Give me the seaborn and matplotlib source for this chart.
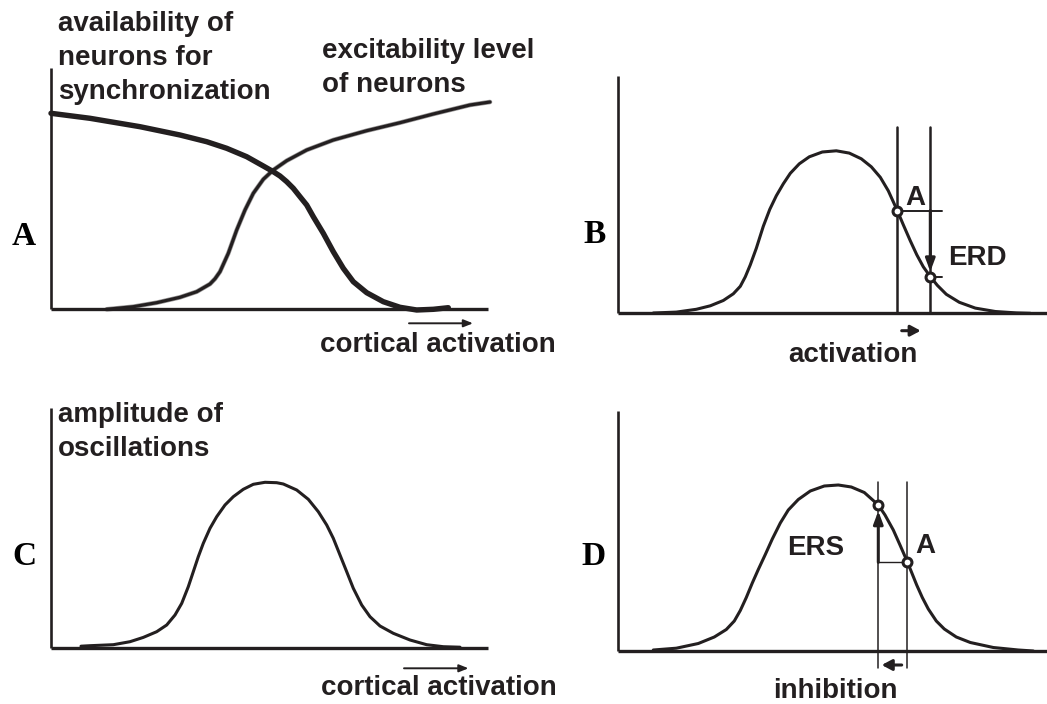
import matplotlib
matplotlib.use("Agg")
import matplotlib.pyplot as plt
import pandas as pd
import seaborn as sns

sns.set_theme(style="white")
plt.rcParams["font.family"] = ["Liberation Sans", "DejaVu Sans"]

INK = "#231f20"

# ---------------- Panel A: availability vs. excitability ----------------
avail_x = [0, 39, 89, 129, 155.7, 175.7, 195.7, 212.3, 222.3, 229, 235.7,
           242.3, 249, 255.7, 262.3, 272.3, 282.3, 292.3, 302.3, 315.7,
           332.3, 349, 365.7, 382.3, 397.3]
avail_y = [196, 191, 182.6, 174.3, 167.6, 161, 152.6, 143.3, 137.6, 133.3,
           127.6, 121, 112.6, 104.3, 92.6, 76, 57.6, 41, 27.6, 16.6, 7.6, 2,
           -0.7, 0, 1.6]

excit_x = [55.7, 82.3, 105.7, 129, 145.7, 159, 164, 169, 177.3, 185.7, 194,
           202.3, 212.3, 222.3, 235.7, 255.7, 282.3, 315.7, 349, 382.3, 419,
           439]
excit_y = [0, 2.6, 6.6, 12, 17.6, 25.3, 30.5, 37.6, 56, 79.3, 99.3, 116,
           130, 139.3, 148.6, 159.3, 169.3, 178.6, 186.6, 195.3, 204.3, 207.3]

# ---------------- Panel B: activation -> ERD ----------------
b_x = [35, 58, 78, 92, 105, 115, 122, 127, 132, 138, 145, 151.5, 158, 165,
       172, 181, 191, 204, 218, 231, 243, 253, 262, 270, 279, 285, 292,
       298.5, 305, 312, 319, 328, 341, 357, 377, 398, 412]
b_y = [0.3, 1.2, 4, 7.5, 12.8, 19.5, 27, 36.5, 48.5, 65, 87, 104, 117.5,
       129.5, 140, 149.5, 156.5, 161.3, 162.5, 160.2, 154.5, 146.5, 136,
       122.5, 102.7, 88.5, 72.5, 58.5, 46.5, 36.7, 28, 19, 11, 5.2, 1.8, 0.4,
       0]
b_states_x = [279, 312]          # resting state A, activated state
b_states_y = [102.7, 36.7]

# ---------------- Panel C: amplitude of oscillations ----------------
c_x = [30, 39, 62.3, 79, 92.3, 105.7, 115.7, 124, 130.7, 137.3, 142.3,
       147.3, 152.3, 159, 165.7, 174, 182.3, 192.3, 202.3, 214, 225.7,
       232.3, 245.7, 257.3, 267.3, 275.7, 282.3, 289, 295.7, 302.3, 310.7,
       319, 329, 342.3, 359, 375.7, 392.3, 409]
c_y = [1.5, 2, 3, 6, 10.3, 16, 22.7, 32.7, 44.3, 61, 76, 91, 104.4, 119.4,
       131, 142.7, 151, 158.4, 163.4, 165.4, 165, 163.7, 157.7, 148.4, 136,
       122.7, 109.4, 92.7, 76, 59.4, 42.7, 31, 21.7, 14.4, 7.7, 3, 1, 0.5]

# ---------------- Panel D: inhibition -> ERS ----------------
d_x = [35, 58, 80, 96, 108, 116, 122, 128, 134, 140, 147, 154, 162, 170,
       180, 192, 206, 220, 233, 246, 260, 266.7, 275, 281.7, 289, 298.4,
       304, 310, 318, 326, 338, 352, 375, 400, 415]
d_y = [1, 2.8, 7.5, 14, 21.5, 30, 40.5, 53.5, 68, 81.5, 96.5, 112, 128, 141,
       151.5, 160, 165, 166, 164, 158.5, 146, 136, 121, 106, 89.3, 66, 53.5,
       42, 30, 22, 14, 8.5, 3.5, 1, 0]
d_states_x = [260, 289]          # synchronized state, resting state A
d_states_y = [146, 89.3]

W, H = 1047, 704
fig = plt.figure(figsize=(W / 100, H / 100), dpi=100)


def make_axes(left, right, top, base):
    ax = fig.add_axes([left / W, 1 - base / H, (right - left) / W, (base - top) / H])
    ax.set_xlim(0, right - left)
    ax.set_ylim(0, base - top)
    ax.set_xticks([])
    ax.set_yticks([])
    for side in ("top", "right"):
        ax.spines[side].set_visible(False)
    ax.spines["left"].set_linewidth(1.9)
    ax.spines["bottom"].set_linewidth(2.4)
    for side in ("left", "bottom"):
        ax.spines[side].set_color(INK)
        ax.spines[side].set_capstyle("butt")
    ax.set_facecolor("none")
    return ax


def curve(ax, xs, ys, lw, color=INK, z=3):
    df = pd.DataFrame({"x": xs, "y": ys})
    sns.lineplot(data=df, x="x", y="y", ax=ax, color=color, lw=lw, sort=False,
                 estimator=None, legend=False, clip_on=False, zorder=z,
                 solid_capstyle="round", solid_joinstyle="round")
    ax.set_xlabel("")
    ax.set_ylabel("")


def states(ax, xs, ys):
    ax.plot(xs, ys, "o", ms=6.4, mfc="white", mec=INK, mew=2.2,
            zorder=6, clip_on=False)


def arrow(ax, tail, tip, lw, hl, hw):
    ax.annotate("", xy=tip, xytext=tail, xycoords="data",
                annotation_clip=False,
                arrowprops=dict(arrowstyle=f"-|>,head_length={hl},head_width={hw}",
                                lw=lw, color=INK, shrinkA=0, shrinkB=0,
                                mutation_scale=10))


def label(ax, x, y, text, size=20, ha="left"):
    ax.text(x, y, text, fontsize=size, fontweight="bold", color=INK,
            ha=ha, va="baseline", clip_on=False)


def stacked(ax, x, y0, lines, step=34):
    for i, line in enumerate(lines):
        label(ax, x, y0 - i * step, line)


# ---- A ----
axA = make_axes(51, 488, 68, 309.3)
curve(axA, excit_x, excit_y, lw=3.3, color="#9a9898", z=2)
curve(axA, excit_x, excit_y, lw=2.3)
curve(axA, avail_x, avail_y, lw=3.9)
stacked(axA, 7, 278.3, ["availability of", "neurons for", "synchronization"])
stacked(axA, 271, 251.3, ["excitability level", "of neurons"])
arrow(axA, (358, -14), (422, -14), lw=1.4, hl=0.55, hw=0.22)
label(axA, 269, -42.7, "cortical activation")

# ---- B ----
axB = make_axes(618.3, 1047, 76, 313.3)
curve(axB, b_x, b_y, lw=2.2)
for xv in b_states_x:
    axB.plot([xv, xv], [0, 186.6], color=INK, lw=1.8, zorder=4)
axB.plot([b_states_x[0], 323.4], [b_states_y[0], b_states_y[0]], color=INK, lw=1.4, zorder=4)
axB.plot([b_states_x[1], 323.4], [b_states_y[1], b_states_y[1]], color=INK, lw=1.4, zorder=4)
arrow(axB, (b_states_x[1], b_states_y[0]), (b_states_x[1], b_states_y[1] + 5),
      lw=2.2, hl=0.75, hw=0.28)
states(axB, b_states_x, b_states_y)
label(axB, 286.7, 108.3, "A")
label(axB, 330, 48.3, "ERD")
arrow(axB, (283.4, -17.4), (302.4, -17.4), lw=2.2, hl=0.6, hw=0.32)
label(axB, 234.2, -48.4, "activation", ha="center")

# ---- C ----
axC = make_axes(51, 488, 408, 647.7)
curve(axC, c_x, c_y, lw=2.2)
stacked(axC, 7, 225.7, ["amplitude of", "oscillations"])
arrow(axC, (353, -20.6), (417.5, -20.6), lw=1.4, hl=0.55, hw=0.22)
label(axC, 270, -47.3, "cortical activation")

# ---- D ----
axD = make_axes(618.3, 1047, 410.7, 651)
curve(axD, d_x, d_y, lw=2.2)
for xv in d_states_x:
    axD.plot([xv, xv], [-17.3, 169.3], color=INK, lw=1.1, zorder=4, clip_on=False)
axD.plot([d_states_x[0], d_states_x[1]], [d_states_y[1] - 0.6] * 2,
         color=INK, lw=1.0, zorder=4)
arrow(axD, (d_states_x[0], d_states_y[1] - 0.6), (d_states_x[0], d_states_y[0] - 6),
      lw=2.2, hl=0.75, hw=0.28)
states(axD, d_states_x, d_states_y)
label(axD, 168.4, 96, "ERS")
label(axD, 296.7, 98, "A")
arrow(axD, (283.4, -14), (263.4, -14), lw=2.2, hl=0.6, hw=0.32)
label(axD, 217.2, -47, "inhibition", ha="center")

# panel letters
for letter, px, py in [("A", 24, 245), ("B", 595, 243), ("C", 24, 565), ("D", 593, 565)]:
    fig.text(px / W, 1 - py / H, letter, fontsize=24, fontweight="bold",
             family=["Liberation Serif", "DejaVu Serif"], color="#000000",
             ha="center", va="baseline")

fig.savefig("out.png", dpi=100, facecolor="white")
